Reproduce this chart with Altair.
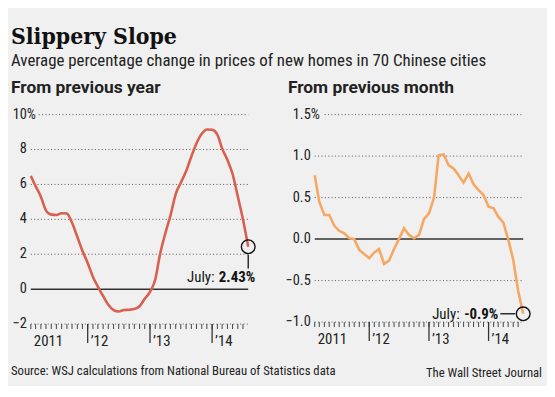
import altair as alt
import pandas as pd

# ---- data ----
# Month-end positions: Jan 2011 ... Jul 2014 (plotted at the first day of the following month)
dates = [d.strftime("%Y-%m-%d") for d in pd.date_range("2011-02-01", "2014-08-01", freq="MS")]
yoy = [6.49, 5.9, 5.3, 4.5, 4.27, 4.25, 4.35, 4.33, 3.8, 3.0, 2.2, 1.5, 0.7, 0.15,
       -0.4, -0.9, -1.2, -1.28, -1.2, -1.18, -1.14, -0.98, -0.55, -0.15, 0.55, 2.0,
       3.2, 4.2, 5.45, 6.1, 6.75, 7.6, 8.35, 8.9, 9.15, 9.13, 8.85, 8.05, 7.4, 6.6,
       5.3, 4.0, 2.43]
mom = [0.77, 0.45, 0.29, 0.29, 0.16, 0.10, 0.07, 0.01, 0.0, -0.13, -0.18, -0.23,
       -0.16, -0.12, -0.30, -0.26, -0.12, 0.0, 0.13, 0.05, 0.01, 0.05, 0.24, 0.31,
       0.50, 1.01, 1.02, 0.89, 0.85, 0.77, 0.68, 0.79, 0.66, 0.59, 0.53, 0.39, 0.37,
       0.27, 0.20, 0.0, -0.25, -0.62, -0.9]
yoy_ticks = [10, 8, 6, 4, 2, 0, -2]
yoy_tick_labels = ["10", "8", "6", "4", "2", "0", "\u22122"]
mom_ticks = [1.5, 1.0, 0.5, 0.0, -0.5, -1.0]
mom_tick_labels = ["1.5", "1.0", "0.5", "0.0", "\u22120.5", "\u22121.0"]
year_ticks = ["2012-01-01", "2013-01-01", "2014-01-01"]
year_label_dates = ["2011-02-01", "2012-01-01", "2013-01-01", "2014-01-01"]
year_labels = ["2011", "\u201912", "\u201913", "\u201914"]
month_ticks = [d.strftime("%Y-%m-%d") for d in pd.date_range("2011-02-01", "2014-07-01", freq="MS")]

NARROW = "Liberation Sans Narrow, Roboto Condensed, Arial Narrow, sans-serif"
HEAD = "Roboto, Noto Sans, sans-serif"
SERIF = "DejaVu Serif Condensed, DejaVu Serif, serif"
BG = "#f0f0f0"
TXT = "#222222"

XDOM = [alt.DateTime(year=2011, month=2, date=1, utc=True),
        alt.DateTime(year=2014, month=8, date=1, utc=True)]


def panel(values, ticks, tick_labels, ydom, width, height, color, title,
          interp, ann_value, ann_kind, title_dx, top_grid_start):
    xs = alt.Scale(type="utc", domain=XDOM)
    ys = alt.Scale(domain=ydom, nice=False, zero=False)
    df = pd.DataFrame({"date": dates, "v": values})
    tk = pd.DataFrame({"v": ticks, "lab": tick_labels})
    base_x = alt.X("date:T", scale=xs, axis=None)
    Y = alt.Y("v:Q", scale=ys, axis=None)

    grid = alt.Chart(tk[(tk.v != 0) & (tk.v != ydom[1])]).mark_rule(
        color="#555", strokeDash=[1, 2.4], strokeWidth=1
    ).encode(y=Y, x=alt.value(0), x2=alt.value(width))
    topgrid = alt.Chart(tk[tk.v == ydom[1]]).mark_rule(
        color="#555", strokeDash=[1, 2.4], strokeWidth=1
    ).encode(y=Y, x=alt.value(top_grid_start), x2=alt.value(width))
    zero = alt.Chart(tk[tk.v == 0]).mark_rule(color="#333", strokeWidth=1.5).encode(
        y=Y, x=alt.value(0), x2=alt.value(width))
    ylab = alt.Chart(tk).mark_text(
        align="right", baseline="middle", font=NARROW, fontSize=14.5, color=TXT
    ).encode(y=Y, x=alt.value(-4), text="lab:N")
    pct = alt.Chart(tk[tk.v == ydom[1]]).mark_text(
        align="left", baseline="middle", font=NARROW, fontSize=14.5, color=TXT
    ).encode(y=Y, x=alt.value(-4), text=alt.value("%"))

    mt = alt.Chart(pd.DataFrame({"date": month_ticks})).mark_rule(
        color="#444", strokeWidth=1).encode(
        x=base_x, y=alt.value(height), y2=alt.value(height + 5))
    yt = alt.Chart(pd.DataFrame({"date": year_ticks})).mark_rule(
        color="#333", strokeWidth=1.3).encode(
        x=base_x, y=alt.value(height), y2=alt.value(height + 19))
    yl = alt.Chart(pd.DataFrame({"date": year_label_dates, "lab": year_labels})).mark_text(
        align="left", baseline="middle", font=NARROW, fontSize=15, color=TXT, dx=3
    ).encode(x=base_x, y=alt.value(height + 17), text="lab:N")

    line = alt.Chart(df).mark_line(color=color, strokeWidth=2.6, interpolate=interp).encode(
        x=base_x, y=Y)

    last = pd.DataFrame({"date": [dates[-1]], "v": [ann_value],
                         "lab": [("%.2f%%" if ann_kind == "v" else "%.1f%%") % ann_value]})
    circ = alt.Chart(last).mark_point(shape="circle", size=190, filled=False,
                                       color="#111", strokeWidth=1.4, opacity=1).encode(
        x=base_x, y=Y)
    layers = [grid, topgrid, zero, ylab, pct, mt, yt, yl, line, circ]
    if ann_kind == "v":
        conn = alt.Chart(last).mark_rule(color="#111", strokeWidth=1.3, yOffset=8, y2Offset=22).encode(
            x=base_x, y=Y, y2="v:Q")
        bold = alt.Chart(last).mark_text(align="right", baseline="middle", font=NARROW,
                                         fontSize=15, fontWeight="bold", color="#111",
                                         dx=7, dy=31).encode(
            x=base_x, y=Y, text="lab:N")
        reg = alt.Chart(last).mark_text(align="right", baseline="middle", font=NARROW,
                                        fontSize=15, color="#111", dx=-34, dy=31).encode(
            x=base_x, y=Y, text=alt.value("July:"))
    else:
        conn = alt.Chart(last).mark_rule(color="#111", strokeWidth=1.3, xOffset=-8, x2Offset=-23).encode(
            x=base_x, x2="date:T", y=Y)
        bold = alt.Chart(last).mark_text(align="right", baseline="middle", font=NARROW,
                                         fontSize=15, fontWeight="bold", color="#111",
                                         dx=-25, dy=0).encode(
            x=base_x, y=Y, text="lab:N")
        reg = alt.Chart(last).mark_text(align="right", baseline="middle", font=NARROW,
                                        fontSize=15, color="#111", dx=-64, dy=0).encode(
            x=base_x, y=Y, text=alt.value("July:"))
    layers += [conn, bold, reg]
    return alt.layer(*layers).properties(
        width=width, height=height,
        title=alt.TitleParams(title, anchor="start", frame="group", dx=title_dx,
                              font=HEAD, fontSize=17.5, fontWeight="bold",
                              color=TXT, offset=10),
    )


left = panel(yoy, yoy_ticks, yoy_tick_labels, [-2, 10], 219, 211, "#d95f4e",
             "From previous year", "monotone", 2.43, "v", -20, 8)
right = panel(mom, mom_ticks, mom_tick_labels, [-1.0, 1.5], 210, 209, "#f6a862",
              "From previous month", "linear", -0.9, "m", -27, 10)

foot_l = alt.Chart(pd.DataFrame({"t": ["Source:  WSJ calculations from National Bureau of Statistics data"]})).mark_text(
    align="left", baseline="middle", font=NARROW, fontSize=12.8, color=TXT).encode(
    text="t:N", x=alt.value(-20), y=alt.value(258))
foot_r = alt.Chart(pd.DataFrame({"t": ["The Wall Street Journal"]})).mark_text(
    align="right", baseline="middle", font=NARROW, fontSize=12.8, color=TXT).encode(
    text="t:N", x=alt.value(229), y=alt.value(260))

left = alt.layer(left, foot_l).properties(width=219, height=211)
right = alt.layer(right, foot_r).properties(width=210, height=209)

chart = alt.hconcat(left, right, spacing=67, bounds="flush").properties(
    title=alt.TitleParams(
        "Slippery Slope",
        subtitle="Average percentage change in prices of new homes in 70 Chinese cities",
        anchor="start", font=SERIF, fontSize=23, fontWeight="bold", color="#111",
        subtitleFont=NARROW, subtitleFontSize=17, subtitleColor=TXT, subtitlePadding=5,
        offset=10, frame="bounds"),
    padding={"left": 3, "top": 16, "right": 5, "bottom": 5},
    background=BG,
).configure_view(stroke=None)

chart.save("out.html", embed_options={"renderer": "svg", "actions": False})
